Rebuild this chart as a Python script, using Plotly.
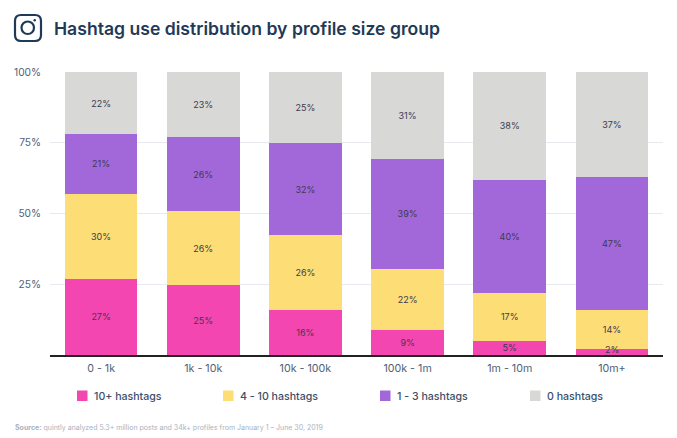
import plotly.graph_objs as go

W, H = 677, 438
LEFT, RIGHT, TOP, BOTTOM = 50, 663, 72, 355

groups = ["0 - 1k", "1k - 10k", "10k - 100k", "100k - 1m", "1m - 10m", "10m+"]
many = [27, 24.7, 16, 8.8, 5, 2]
some = [30, 26.2, 26.4, 21.7, 17, 14]
few = [21, 26.1, 32.4, 38.8, 40, 47]
none = [22, 23, 25.2, 30.7, 38, 37]

series_names = ["10+ hashtags", "4 - 10 hashtags", "1 - 3 hashtags", "0 hashtags"]
series_values = [many, some, few, none]
colors = ["#f346b1", "#fddd75", "#a268da", "#d8d8d6"]
legend_x = [77, 223, 380, 530]

y_ticks = [25, 50, 75, 100]
y_labels = ["25%", "50%", "75%", "100%"]

NAVY = "#1f3a57"
FONT = "Inter"
LABEL_FONT = dict(family=FONT, size=9, color="#3c3a50")


# pixel position -> paper position
def px(x):
    return (x - LEFT) / (RIGHT - LEFT)


def py(y):
    return (BOTTOM - y) / (BOTTOM - TOP)


# rounded square as an svg path, corners given in pixels
def rounded(x0, y0, x1, y1, r):
    return (f"M{px(x0 + r)},{py(y0)} L{px(x1 - r)},{py(y0)} Q{px(x1)},{py(y0)} {px(x1)},{py(y0 + r)} "
            f"L{px(x1)},{py(y1 - r)} Q{px(x1)},{py(y1)} {px(x1 - r)},{py(y1)} "
            f"L{px(x0 + r)},{py(y1)} Q{px(x0)},{py(y1)} {px(x0)},{py(y1 - r)} "
            f"L{px(x0)},{py(y0 + r)} Q{px(x0)},{py(y0)} {px(x0 + r)},{py(y0)} Z")


data = []
shapes = []
annotations = []
for i in range(len(series_names)):
    # the last pink bar is thinner than its label, that one goes in as an annotation
    labels = ["%{y:.0f}%"] * len(groups)
    if i == 0:
        labels[-1] = ""
    data.append(go.Bar(
        x=groups, y=series_values[i], name=series_names[i],
        marker=dict(color=colors[i], line=dict(width=0)),
        texttemplate=labels, textposition="inside",
        insidetextanchor="middle", constraintext="none", textangle=0,
        textfont=LABEL_FONT,
        hoverinfo="skip",
    ))
    # legend swatch + label (plotly's own legend can't get this tight)
    shapes.append(dict(type="rect", xref="paper", yref="paper",
                       x0=px(legend_x[i]), x1=px(legend_x[i] + 10.5), y0=py(390.5), y1=py(401),
                       line=dict(width=0), fillcolor=colors[i]))
    annotations.append(dict(
        text=series_names[i], x=px(legend_x[i] + 17), y=py(396), xref="paper", yref="paper",
        xanchor="left", yanchor="middle", showarrow=False, xshift=-2,
        font=dict(family=FONT, size=10.6, color="#3b4f68", weight=500),
    ))

annotations.append(dict(
    text=str(many[-1]) + "%", x=groups[-1], y=many[-1], xref="x", yref="y",
    xanchor="center", yanchor="middle", showarrow=False, font=LABEL_FONT,
))

# instagram glyph
shapes += [
    dict(type="path", xref="paper", yref="paper", path=rounded(15, 15, 41, 41, 6),
         line=dict(color=NAVY, width=2.2), fillcolor="white"),
    dict(type="circle", xref="paper", yref="paper", x0=px(21.5), x1=px(34), y0=py(21.5), y1=py(34),
         line=dict(color=NAVY, width=2.2)),
    dict(type="circle", xref="paper", yref="paper", x0=px(33.5), x1=px(36), y0=py(19), y1=py(21.5),
         line=dict(width=0), fillcolor=NAVY),
]

annotations.append(dict(
    text="<b>Source:</b> quintly analyzed 5.3+ million posts and 34k+ profiles from January 1 – June 30, 2019",
    x=px(15), y=py(427), xref="paper", yref="paper", xshift=-2,
    xanchor="left", yanchor="middle", showarrow=False,
    font=dict(family=FONT, size=7, color="#a9b2bf"),
))

layout = go.Layout(
    width=W, height=H, barmode="stack", bargap=0.29, showlegend=False,
    margin=dict(l=LEFT, r=W - RIGHT, t=TOP, b=H - BOTTOM),
    paper_bgcolor="white", plot_bgcolor="white",
    font=dict(family=FONT),
    title=dict(text="Hashtag use distribution by profile size group",
               x=54 / W, xref="container", xanchor="left",
               y=1 - 29 / H, yref="container", yanchor="middle",
               font=dict(family=FONT, size=17.6, color=NAVY, weight=600)),
    xaxis=dict(showgrid=False, showline=True, linecolor="#222222", linewidth=1.5,
               ticks="", ticklabelstandoff=2,
               tickfont=dict(family=FONT, size=10.7, color="#4f6176")),
    yaxis=dict(range=[0, 100], tickvals=y_ticks, ticktext=y_labels,
               showgrid=True, gridcolor="#e8e8ef", gridwidth=1, zeroline=False,
               ticks="", ticklabelstandoff=8,
               tickfont=dict(family=FONT, size=10.2, color="#4f6176")),
    shapes=shapes,
    annotations=annotations,
)

fig = go.Figure(data=data, layout=layout)
# page default margin would push the chart 8px off
fig.write_html("out.html", config=dict(displayModeBar=False),
               post_script="document.body.style.margin = '0';")
